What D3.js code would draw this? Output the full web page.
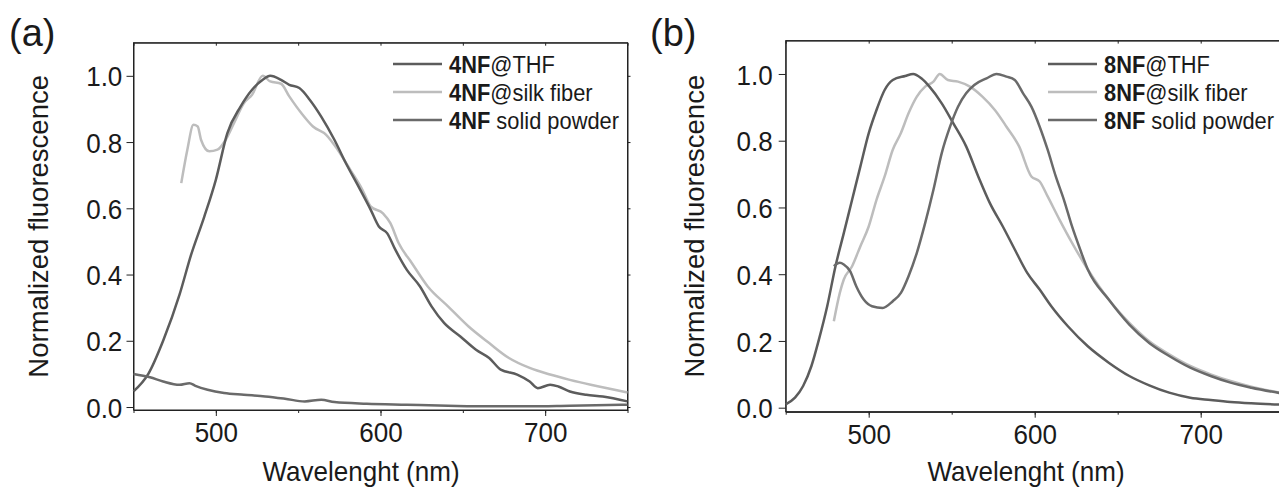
<!DOCTYPE html>
<html>
<head>
<meta charset="utf-8">
<script src="https://cdn.jsdelivr.net/npm/d3@7"></script>
<style>
  body { margin: 0; background: #fff; }
  text { font-family: Arial, "Liberation Sans", sans-serif; fill: #1a1a1a; }
</style>
</head>
<body>
<svg id="chart" width="1279" height="487"></svg>
<script>
// tick values
var xTicks = [500, 600, 700];
var xMinorTicks = [450, 500, 550, 600, 650, 700, 750];
var yTicks = [0.0, 0.2, 0.4, 0.6, 0.8, 1.0];

// (a) 4NF spectra  [wavelength nm, normalized fluorescence]
var thf4 = [[450,0.047],[459,0.10],[468,0.20],[478,0.34],[485,0.46],[493,0.575],[500,0.686],[507,0.827],
  [515,0.907],[522,0.958],[528.5,0.988],[533,1.0],[539.6,0.988],[544.6,0.973],[550.7,0.963],[557,0.928],
  [564,0.877],[572,0.807],[579,0.736],[586.6,0.666],[594,0.596],[599,0.545],[604,0.525],[609,0.475],
  [616,0.414],[624,0.364],[631,0.304],[638.6,0.254],[648.5,0.213],[658,0.173],[666,0.148],[673,0.113],
  [683,0.098],[690.6,0.077],[695.5,0.057],[703,0.067],[708,0.062],[715,0.047],[725,0.037],[735,0.032],[750,0.017]];
var silk4 = [[479,0.676],[482.7,0.777],[486.4,0.852],[489,0.847],[491,0.807],[496,0.772],[501,0.777],[506,0.807],
  [511,0.857],[517,0.917],[522,0.943],[528.5,1.0],[533,0.983],[539.6,0.976],[544.6,0.938],[552,0.887],
  [559,0.847],[567,0.822],[574,0.777],[581.7,0.716],[589,0.656],[594,0.606],[601.5,0.585],[606,0.555],
  [611,0.495],[619,0.435],[628.7,0.364],[641,0.304],[653.5,0.243],[666,0.193],[678,0.148],[690.6,0.118],
  [703,0.098],[715,0.082],[727.7,0.067],[750,0.044]];
var powder4 = [[450,0.10],[460,0.09],[468,0.077],[478,0.067],[484,0.072],[487.6,0.064],[495,0.052],[505,0.042],
  [517,0.037],[530,0.032],[542,0.025],[554,0.017],[564,0.022],[572,0.015],[591.6,0.010],[616,0.007],
  [641,0.004],[666,0.002],[690.6,0.002],[715,0.004],[750,0.007]];

// (b) 8NF spectra
var thf8 = [[450,0.01],[455.6,0.03],[460.5,0.065],[465.5,0.125],[470,0.204],[475,0.304],[480,0.424],[485,0.523],
  [490,0.623],[495,0.723],[500,0.822],[504.7,0.892],[509.6,0.952],[514.5,0.982],[522,0.994],[526.8,1.0],
  [531.7,0.987],[536.6,0.962],[544,0.912],[551,0.852],[558.7,0.783],[566,0.693],[573,0.613],[580.8,0.543],
  [588,0.474],[595.5,0.404],[603,0.354],[610,0.304],[620,0.244],[632,0.184],[644.6,0.135],[657,0.095],
  [669,0.067],[681,0.045],[693.7,0.03],[706,0.023],[718,0.017],[730.5,0.013],[750,0.009]];
var silk8 = [[479,0.259],[482.6,0.344],[485,0.384],[490,0.424],[495,0.484],[500,0.543],[504.7,0.623],[509.6,0.693],
  [514.5,0.773],[519.4,0.823],[524,0.882],[529,0.932],[534,0.962],[539,0.977],[542.8,1.0],[547.7,0.982],
  [553.8,0.977],[561,0.962],[568.5,0.932],[576,0.892],[583,0.842],[590.6,0.783],[598,0.693],[603,0.678],
  [607.8,0.633],[615,0.563],[622.5,0.494],[632,0.414],[644.6,0.324],[657,0.254],[669,0.199],[681,0.16],
  [693.7,0.125],[706,0.10],[718,0.08],[730.5,0.063],[750,0.043]];
var powder8 = [[479,0.424],[482.6,0.434],[485,0.429],[488.8,0.409],[492.5,0.364],[497,0.324],[502,0.304],[508.4,0.299],
  [514.5,0.319],[519.4,0.344],[524,0.394],[529,0.464],[534,0.553],[539,0.653],[544,0.763],[549,0.842],
  [553.8,0.902],[558.7,0.942],[563.6,0.967],[571,0.987],[577,1.0],[583,0.992],[588,0.982],[593,0.942],
  [598,0.902],[603,0.842],[607.8,0.773],[612.7,0.693],[617.6,0.623],[622.5,0.543],[627.4,0.474],[632,0.414],
  [644.6,0.324],[657,0.249],[669,0.194],[681,0.155],[693.7,0.12],[706,0.095],[718,0.075],[730.5,0.06],[750,0.042]];

var darkGray = "#5c5c5c", lightGray = "#bdbdbd", midGray = "#6a6a6a";
var squeeze = 0.93; // the original font is a bit narrower than Arial

var panels = [
  {tag: "(a)", tagX: 9, compound: "4NF", left: 133.5, right: 627.5, top: 42.7, bottom: 410,
   yDomain: [-0.009, 1.1], labelPad: 5, yTitleX: 38, xTitleX: 361, legendX: 393,
   series: [thf4, silk4, powder4]},
  {tag: "(b)", tagX: 650, compound: "8NF", left: 785.7, right: 1283.7, top: 40.6, bottom: 411.7,
   yDomain: [-0.012, 1.1], labelPad: 7, yTitleX: 694, xTitleX: 1026, legendX: 1048,
   series: [thf8, silk8, powder8]}
];

var svg = d3.select("#chart");

panels.forEach(function(p) {
  var x = d3.scaleLinear().domain([450, 750]).range([p.left, p.right]);
  var y = d3.scaleLinear().domain(p.yDomain).range([p.bottom, p.top]);
  var g = svg.append("g");

  // frame
  g.append("rect")
    .attr("x", p.left).attr("y", p.top)
    .attr("width", p.right - p.left).attr("height", p.bottom - p.top)
    .attr("fill", "none").attr("stroke", "#222").attr("stroke-width", 1);

  // minor x ticks bottom
  g.append("g").attr("transform", "translate(0," + p.bottom + ")")
    .call(d3.axisBottom(x).tickValues(xMinorTicks).tickSize(3).tickSizeOuter(0).tickFormat(""));
  // major x ticks bottom
  var xa = g.append("g").attr("transform", "translate(0," + p.bottom + ")")
    .call(d3.axisBottom(x).tickValues(xTicks).tickSize(6).tickSizeOuter(0).tickPadding(6).tickFormat(d3.format("d")));
  // mirrored ticks on top
  g.append("g").attr("transform", "translate(0," + p.top + ")")
    .call(d3.axisTop(x).tickValues(xMinorTicks).tickSize(-3).tickSizeOuter(0).tickFormat(""));

  var ya = g.append("g").attr("transform", "translate(" + p.left + ",0)")
    .call(d3.axisLeft(y).tickValues(yTicks).tickSize(7).tickSizeOuter(0).tickPadding(p.labelPad).tickFormat(d3.format(".1f")));
  g.append("g").attr("transform", "translate(" + p.right + ",0)")
    .call(d3.axisRight(y).tickValues(yTicks).tickSize(3).tickSizeOuter(0).tickFormat(""));

  g.selectAll(".domain").attr("stroke", "#222");
  g.selectAll(".tick line").attr("stroke", "#222");
  xa.selectAll("text").style("font-size", "28px").attr("fill", "#1a1a1a")
    .attr("transform", "scale(" + squeeze + ",1)");
  ya.selectAll("text").style("font-size", "28px").attr("fill", "#1a1a1a")
    .attr("dy", "0.36em")
    .attr("transform", "scale(" + squeeze + ",1)");

  // spectra
  var line = d3.line()
    .curve(d3.curveMonotoneX)
    .x(function(d) { return x(d[0]); })
    .y(function(d) { return y(d[1]); });
  var colors = [darkGray, lightGray, midGray];
  // light curve first so the dark ones sit over it
  [1, 0, 2].forEach(function(i) {
    g.append("path")
      .datum(p.series[i])
      .attr("d", line)
      .attr("fill", "none")
      .attr("stroke", colors[i])
      .attr("stroke-width", 2.5)
      .attr("stroke-linejoin", "round");
  });

  // legend
  var names = ["@THF", "@silk fiber", " solid powder"];
  names.forEach(function(n, i) {
    var ly = 64 + i * 28;
    g.append("line")
      .attr("x1", p.legendX).attr("x2", p.legendX + 49)
      .attr("y1", ly).attr("y2", ly)
      .attr("stroke", colors[i]).attr("stroke-width", 2.5);
    var t = g.append("text")
      .attr("transform", "translate(" + (p.legendX + 56) + "," + (ly + 8.5) + ") scale(" + squeeze + ",1)")
      .style("font-size", "23.5px");
    t.append("tspan").style("font-weight", "bold").text(p.compound);
    t.append("tspan").text(n);
  });

  // axis titles
  g.append("text")
    .attr("transform", "translate(" + p.xTitleX + ",481) scale(" + squeeze + ",1)")
    .attr("text-anchor", "middle")
    .style("font-size", "28px")
    .text("Wavelenght (nm)");
  g.append("text")
    .attr("transform", "translate(" + (p.yTitleX + 10) + "," + ((p.top + p.bottom) / 2) + ") rotate(-90)")
    .attr("text-anchor", "middle")
    .style("font-size", "27.5px")
    .text("Normalized fluorescence");

  // panel tag
  svg.append("text")
    .attr("x", p.tagX).attr("y", 46)
    .style("font-size", "38px")
    .text(p.tag);
});
</script>
</body>
</html>
